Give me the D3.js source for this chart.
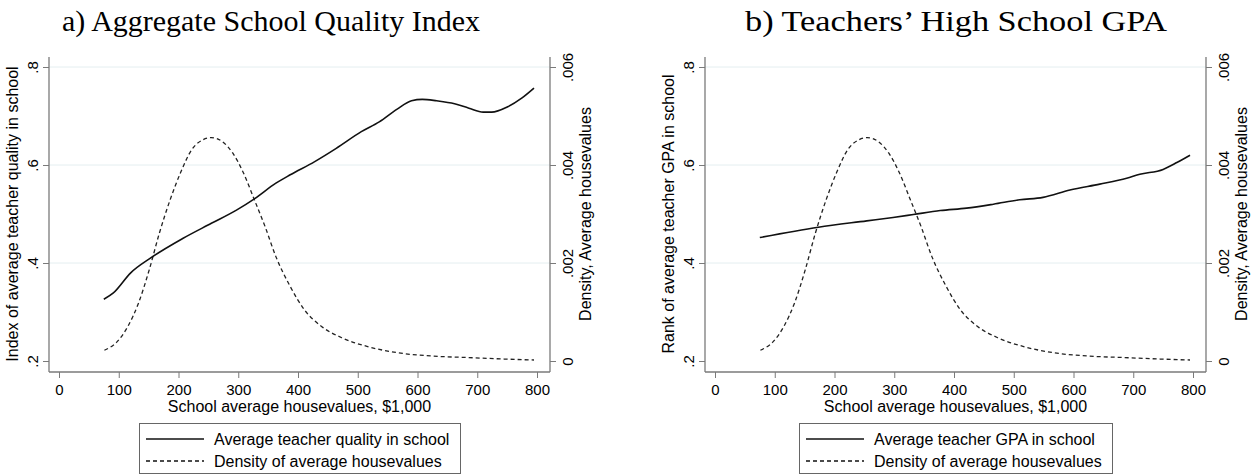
<!DOCTYPE html>
<html>
<head>
<meta charset="utf-8">
<script src="https://cdnjs.cloudflare.com/ajax/libs/d3/7.8.5/d3.min.js"></script>
<style>
  body { margin: 0; background: #fff; }
  svg { display: block; }
  .tick text { fill: #000; }
</style>
</head>
<body>
<svg id="chart" width="1257" height="475"></svg>
<script>
// house values ($1,000) where the density curve is read
const densityX = [76, 97, 115, 133, 151, 168, 186, 204, 222, 240, 255, 273, 291, 309, 327, 345, 363, 387, 411, 440, 476, 518, 566, 626, 686, 745, 795];
const densityY = [.00022, .00039, .0007, .00118, .00186, .00261, .00329, .00386, .00431, .00451, .00456, .00448, .00424, .00383, .00329, .00274, .00213, .00152, .00104, .0007, .00046, .00029, .00017, .0001, .00007, .00004, .00002];

// panel a: aggregate quality index
const qualityX = [75, 91, 120, 153, 207, 255, 297, 327, 363, 387, 428, 464, 506, 536, 566, 590, 608, 632, 662, 686, 710, 724, 751, 775, 795];
const qualityY = [.326, .339, .380, .410, .450, .481, .508, .531, .563, .580, .607, .634, .668, .688, .714, .731, .734, .731, .725, .716, .708, .708, .719, .737, .757];

// panel b: teacher GPA rank
const gpaX = [75, 173, 254, 298, 332, 377, 421, 466, 510, 549, 594, 644, 689, 711, 750, 773, 795];
const gpaY = [.452, .473, .486, .493, .499, .507, .512, .520, .529, .534, .549, .561, .573, .581, .591, .605, .620];

const xTicks = [0, 100, 200, 300, 400, 500, 600, 700, 800];
const yTicks = [.2, .4, .6, .8];
const y2Ticks = [0, .002, .004, .006];
const gridTicks = [.4, .6, .8];

const panels = [
  { title: "a) Aggregate School Quality Index", titleX: 271, titleW: 418, left: 49,
    yTitle: "Index of average teacher quality in school",
    lineLabel: "Average teacher quality in school",
    xs: qualityX, ys: qualityY, legendW: 321 },
  { title: "b) Teachers\u2019 High School GPA", titleX: 956, titleW: 422, left: 705,
    yTitle: "Rank of average teacher GPA in school",
    lineLabel: "Average teacher GPA in school",
    xs: gpaX, ys: gpaY, legendW: 313 }
];

const svg = d3.select("#chart");
const sans = "Liberation Sans, Arial, sans-serif";
const axisGray = "#7a7a7a";

const fmt = v => v === 0 ? "0" : String(+v.toFixed(3)).replace(/^0\./, ".");

panels.forEach(p => {
  const L = p.left, R = L + 501, top = 57, bottom = 372;

  const x = d3.scaleLinear().domain([0, 800]).range([L + 10, L + 488]);
  const y = d3.scaleLinear().domain([.2, .8]).range([361, 67]);
  const y2 = d3.scaleLinear().domain([0, .006]).range([361, 67]);

  const g = svg.append("g");

  // title
  g.append("text")
    .attr("x", p.titleX - p.titleW / 2).attr("y", 31)
    .attr("font-family", "Liberation Serif, Times New Roman, serif")
    .attr("font-size", 30)
    .attr("textLength", p.titleW)
    .attr("lengthAdjust", "spacingAndGlyphs")
    .text(p.title);

  // grid
  g.selectAll(".grid").data(gridTicks).enter().append("line")
    .attr("x1", L).attr("x2", R)
    .attr("y1", d => y(d)).attr("y2", d => y(d))
    .attr("stroke", "#e4eef0").attr("stroke-width", 1);

  // axes
  const ax = g.append("g").attr("transform", `translate(0,${bottom})`)
    .call(d3.axisBottom(x).tickValues(xTicks).tickSize(6).tickPadding(6).tickSizeOuter(0));
  const ay = g.append("g").attr("transform", `translate(${L},0)`)
    .call(d3.axisLeft(y).tickValues(yTicks).tickFormat(fmt).tickSize(6).tickSizeOuter(0));
  const ay2 = g.append("g").attr("transform", `translate(${R},0)`)
    .call(d3.axisRight(y2).tickValues(y2Ticks).tickFormat(fmt).tickSize(6).tickSizeOuter(0));

  [ax, ay, ay2].forEach(a => {
    a.select(".domain").remove();
    a.selectAll(".tick line").attr("stroke", axisGray);
    a.selectAll("text").attr("font-family", sans).attr("font-size", 15);
  });
  ax.selectAll("text").attr("dy", "0.71em");

  ay.selectAll(".tick text")
    .attr("x", null).attr("dy", null)
    .attr("text-anchor", "middle")
    .attr("transform", "translate(-16,0) rotate(-90)")
    .attr("dy", "0.35em");
  ay2.selectAll(".tick text")
    .attr("x", null).attr("dy", null)
    .attr("text-anchor", "middle")
    .attr("transform", "translate(18,0) rotate(-90)")
    .attr("dy", "0.35em");

  // frame lines
  g.append("line").attr("x1", L).attr("x2", L).attr("y1", top).attr("y2", bottom)
    .attr("stroke", axisGray).attr("stroke-width", 1.3);
  g.append("line").attr("x1", R).attr("x2", R).attr("y1", top).attr("y2", bottom)
    .attr("stroke", axisGray).attr("stroke-width", 1.3);
  g.append("line").attr("x1", L).attr("x2", R).attr("y1", bottom).attr("y2", bottom)
    .attr("stroke", axisGray).attr("stroke-width", 1.3);

  // axis titles
  g.append("text")
    .attr("transform", `translate(${L - 37},${(y(.2) + y(.8)) / 2}) rotate(-90)`)
    .attr("text-anchor", "middle").attr("dy", "0.35em")
    .attr("font-family", sans).attr("font-size", 16)
    .text(p.yTitle);
  g.append("text")
    .attr("transform", `translate(${R + 35},${(y(.2) + y(.8)) / 2}) rotate(-90)`)
    .attr("text-anchor", "middle").attr("dy", "0.35em")
    .attr("font-family", sans).attr("font-size", 16)
    .text("Density, Average housevalues");
  g.append("text")
    .attr("x", (L + R) / 2).attr("y", 406)
    .attr("text-anchor", "middle").attr("dy", "0.35em")
    .attr("font-family", sans).attr("font-size", 16)
    .text("School average housevalues, $1,000");

  // series
  const main = p.xs.map((v, i) => [v, p.ys[i]]);
  const dens = densityX.map((v, i) => [v, densityY[i]]);

  g.append("path").datum(dens)
    .attr("fill", "none").attr("stroke", "#222").attr("stroke-width", 1.3)
    .attr("stroke-dasharray", "4,3")
    .attr("d", d3.line().x(d => x(d[0])).y(d => y2(d[1])).curve(d3.curveMonotoneX));

  g.append("path").datum(main)
    .attr("fill", "none").attr("stroke", "#111").attr("stroke-width", 1.6)
    .attr("d", d3.line().x(d => x(d[0])).y(d => y(d[1])).curve(d3.curveMonotoneX));

  // legend
  const lx = (L + R) / 2 - p.legendW / 2;
  const leg = g.append("g").attr("transform", `translate(${lx},423)`);
  leg.append("rect").attr("x", 0.5).attr("y", 0.5)
    .attr("width", p.legendW).attr("height", 50)
    .attr("fill", "#fff").attr("stroke", "#666");
  const items = [
    { label: p.lineLabel, dash: null, ly: 16 },
    { label: "Density of average housevalues", dash: "4,3", ly: 38 }
  ];
  items.forEach(it => {
    leg.append("line").attr("x1", 7).attr("x2", 65).attr("y1", it.ly).attr("y2", it.ly)
      .attr("stroke", "#111").attr("stroke-width", 1.3)
      .attr("stroke-dasharray", it.dash);
    leg.append("text").attr("x", 75).attr("y", it.ly).attr("dy", "0.35em")
      .attr("font-family", sans).attr("font-size", 16)
      .text(it.label);
  });
});
</script>
</body>
</html>
